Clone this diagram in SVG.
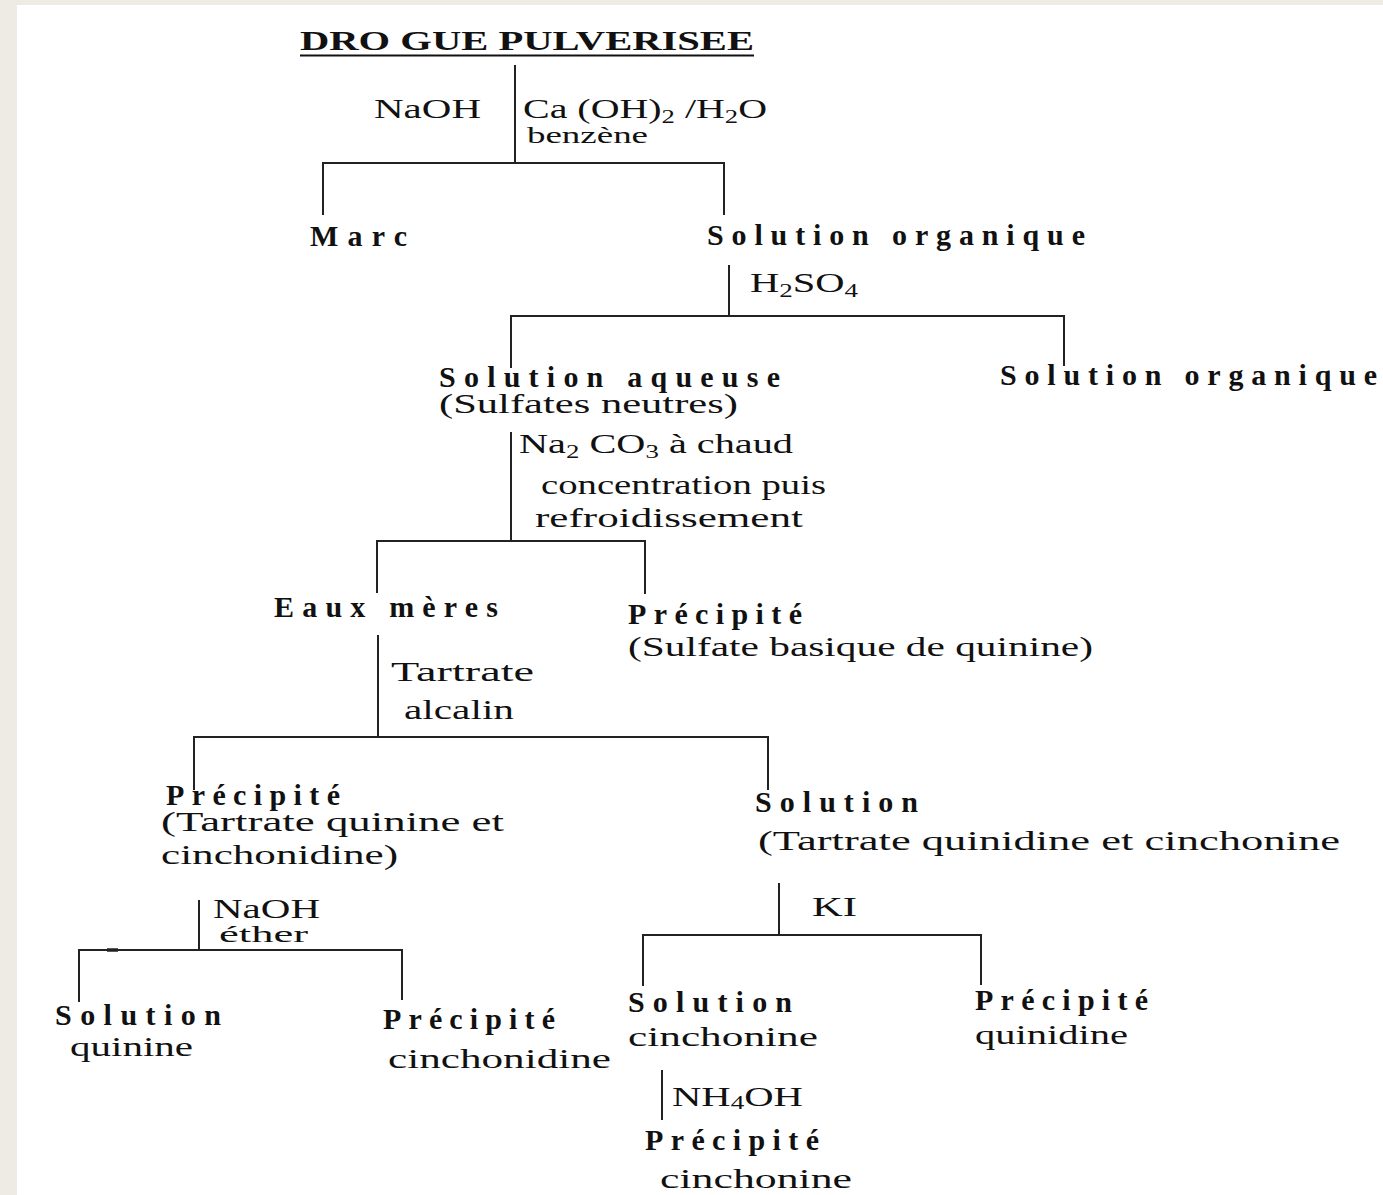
<svg xmlns="http://www.w3.org/2000/svg" width="1383" height="1195" viewBox="0 0 1383 1195">
<style>
text{font-family:"Liberation Serif","Times New Roman",serif;fill:#111;}
.r{font-size:27px;}
.s{font-size:24px;}
.b{font-size:30px;font-weight:bold;}
.t{font-size:28px;font-weight:bold;}
.sub{font-size:18px;}
#connectors line{stroke:#222;stroke-width:2;}
</style>
<rect x="0" y="0" width="1383" height="1195" fill="#EEEBE5"/>
<rect x="17" y="5" width="1366" height="1190" fill="#FFFFFF"/>

<g id="connectors">
  <line x1="515" y1="65" x2="515" y2="163"/>
  <line x1="322" y1="163" x2="725" y2="163"/>
  <line x1="323" y1="163" x2="323" y2="215"/>
  <line x1="724" y1="163" x2="724" y2="215"/>

  <line x1="729" y1="265" x2="729" y2="316"/>
  <line x1="510" y1="316" x2="1065" y2="316"/>
  <line x1="511" y1="316" x2="511" y2="368"/>
  <line x1="1064" y1="316" x2="1064" y2="366"/>

  <line x1="511" y1="432" x2="511" y2="541"/>
  <line x1="376" y1="541" x2="646" y2="541"/>
  <line x1="377" y1="541" x2="377" y2="593"/>
  <line x1="645" y1="541" x2="645" y2="594"/>

  <line x1="378" y1="635" x2="378" y2="737"/>
  <line x1="193" y1="737" x2="769" y2="737"/>
  <line x1="194" y1="737" x2="194" y2="790"/>
  <line x1="768" y1="737" x2="768" y2="790"/>

  <line x1="199" y1="900" x2="199" y2="950"/>
  <line x1="78" y1="950" x2="403" y2="950"/>
  <line x1="107" y1="950" x2="118" y2="950" style="stroke-width:3.5"/>
  <line x1="79" y1="950" x2="79" y2="1002"/>
  <line x1="402" y1="950" x2="402" y2="1000"/>

  <line x1="779" y1="883" x2="779" y2="935"/>
  <line x1="642" y1="935" x2="982" y2="935"/>
  <line x1="643" y1="935" x2="643" y2="986"/>
  <line x1="981" y1="935" x2="981" y2="985"/>

  <line x1="662" y1="1070" x2="662" y2="1120"/>
</g>

<g id="title">
  <text class="t" x="300" y="50" textLength="454" lengthAdjust="spacingAndGlyphs">DRO GUE PULVERISEE</text>
  <line x1="300" y1="55.5" x2="754" y2="55.5" stroke="#111" stroke-width="2"/>
</g>
<g id="reagent-1">
  <text class="r" x="374" y="118" textLength="107" lengthAdjust="spacingAndGlyphs">NaOH</text>
  <text class="r" x="523" y="118" textLength="244" lengthAdjust="spacingAndGlyphs">Ca (OH)<tspan class="sub" dy="5">2</tspan><tspan dy="-5"> /H</tspan><tspan class="sub" dy="5">2</tspan><tspan dy="-5">O</tspan></text>
  <text class="s" x="527" y="143" textLength="121" lengthAdjust="spacingAndGlyphs">benzène</text>
</g>
<g id="marc">
  <text class="b" x="310" y="246" textLength="97" lengthAdjust="spacing">Marc</text>
</g>
<g id="solution-organique-1">
  <text class="b" x="707" y="245" textLength="378" lengthAdjust="spacing">Solution organique</text>
</g>
<g id="reagent-2">
  <text class="r" x="750" y="292" textLength="108" lengthAdjust="spacingAndGlyphs">H<tspan class="sub" dy="5">2</tspan><tspan dy="-5">SO</tspan><tspan class="sub" dy="5">4</tspan></text>
</g>
<g id="solution-aqueuse">
  <text class="b" x="439" y="387" textLength="341" lengthAdjust="spacing">Solution aqueuse</text>
  <text class="r" x="439" y="413" textLength="299" lengthAdjust="spacingAndGlyphs">(Sulfates neutres)</text>
</g>
<g id="solution-organique-2">
  <text class="b" x="1000" y="385" textLength="377" lengthAdjust="spacing">Solution organique</text>
</g>
<g id="reagent-3">
  <text class="r" x="519" y="453" textLength="274" lengthAdjust="spacingAndGlyphs">Na<tspan class="sub" dy="5">2</tspan><tspan dy="-5"> CO</tspan><tspan class="sub" dy="5">3</tspan><tspan dy="-5"> à chaud</tspan></text>
  <text class="r" x="541" y="494" textLength="285" lengthAdjust="spacingAndGlyphs">concentration puis</text>
  <text class="r" x="535" y="527" textLength="268" lengthAdjust="spacingAndGlyphs">refroidissement</text>
</g>
<g id="eaux-meres">
  <text class="b" x="274" y="617" textLength="224" lengthAdjust="spacing">Eaux mères</text>
</g>
<g id="precipite-sulfate">
  <text class="b" x="628" y="624" textLength="174" lengthAdjust="spacing">Précipité</text>
  <text class="r" x="628" y="656" textLength="465" lengthAdjust="spacingAndGlyphs">(Sulfate basique de quinine)</text>
</g>
<g id="reagent-4">
  <text class="r" x="391" y="681" textLength="143" lengthAdjust="spacingAndGlyphs">Tartrate</text>
  <text class="r" x="404" y="719" textLength="110" lengthAdjust="spacingAndGlyphs">alcalin</text>
</g>
<g id="precipite-tartrate">
  <text class="b" x="166" y="805" textLength="174" lengthAdjust="spacing">Précipité</text>
  <text class="r" x="161" y="831" textLength="343" lengthAdjust="spacingAndGlyphs">(Tartrate quinine et</text>
  <text class="r" x="161" y="864" textLength="237" lengthAdjust="spacingAndGlyphs">cinchonidine)</text>
</g>
<g id="solution-tartrate">
  <text class="b" x="755" y="812" textLength="163" lengthAdjust="spacing">Solution</text>
  <text class="r" x="758" y="850" textLength="582" lengthAdjust="spacingAndGlyphs">(Tartrate quinidine et cinchonine</text>
</g>
<g id="reagent-5">
  <text class="r" x="213" y="918" textLength="107" lengthAdjust="spacingAndGlyphs">NaOH</text>
  <text class="s" x="219" y="942" textLength="89" lengthAdjust="spacingAndGlyphs">éther</text>
</g>
<g id="solution-quinine">
  <text class="b" x="55" y="1025" textLength="166" lengthAdjust="spacing">Solution</text>
  <text class="r" x="70" y="1056" textLength="123" lengthAdjust="spacingAndGlyphs">quinine</text>
</g>
<g id="precipite-cinchonidine">
  <text class="b" x="383" y="1029" textLength="172" lengthAdjust="spacing">Précipité</text>
  <text class="r" x="388" y="1068" textLength="223" lengthAdjust="spacingAndGlyphs">cinchonidine</text>
</g>
<g id="reagent-6">
  <text class="r" x="812" y="916" textLength="45" lengthAdjust="spacingAndGlyphs">KI</text>
</g>
<g id="solution-cinchonine">
  <text class="b" x="628" y="1012" textLength="164" lengthAdjust="spacing">Solution</text>
  <text class="r" x="628" y="1046" textLength="190" lengthAdjust="spacingAndGlyphs">cinchonine</text>
</g>
<g id="precipite-quinidine">
  <text class="b" x="975" y="1010" textLength="173" lengthAdjust="spacing">Précipité</text>
  <text class="r" x="975" y="1044" textLength="153" lengthAdjust="spacingAndGlyphs">quinidine</text>
</g>
<g id="reagent-7">
  <text class="r" x="672" y="1106" textLength="131" lengthAdjust="spacingAndGlyphs">NH<tspan class="sub" dy="3">4</tspan><tspan dy="-3">OH</tspan></text>
</g>
<g id="precipite-cinchonine">
  <text class="b" x="645" y="1150" textLength="174" lengthAdjust="spacing">Précipité</text>
  <text class="r" x="660" y="1188" textLength="192" lengthAdjust="spacingAndGlyphs">cinchonine</text>
</g>
</svg>
